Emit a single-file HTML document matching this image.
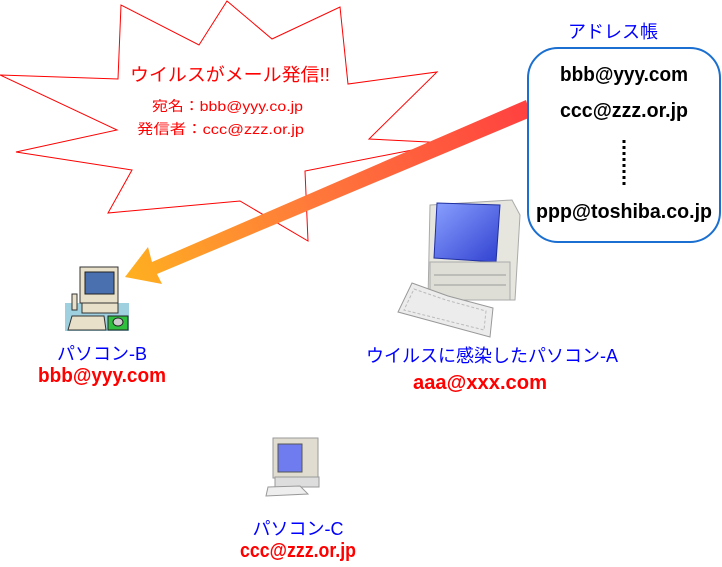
<!DOCTYPE html>
<html><head><meta charset="utf-8"><style>
html,body{margin:0;padding:0;background:#fff;}
svg{display:block;}
.jp{font-family:"Liberation Sans","Noto Sans CJK JP",sans-serif;}
.b{font-family:"Liberation Sans",sans-serif;font-weight:bold;}
</style></head><body>
<svg width="722" height="567" viewBox="0 0 722 567" xmlns="http://www.w3.org/2000/svg">
<defs>
<linearGradient id="ag" x1="530" y1="105" x2="125" y2="277" gradientUnits="userSpaceOnUse">
<stop offset="0" stop-color="#ff4040"/><stop offset="0.55" stop-color="#ff7a3a"/><stop offset="1" stop-color="#ffb020"/>
</linearGradient>
<linearGradient id="scr" x1="0" y1="0" x2="1" y2="1"><stop offset="0" stop-color="#8aa0ff"/><stop offset="1" stop-color="#3040d0"/></linearGradient>
</defs>
<polygon points="0,75 117,130 16,152 132,170 108,213 240,201 308,241 305,171 448,143 369,139 437,72 348,84 340,7 272,39 227,1 199,45 121,5 118,79" fill="#fff" stroke="#f00" stroke-width="1"/>
<text class="jp" x="130" y="81" font-size="18" fill="#f00" textLength="200" lengthAdjust="spacingAndGlyphs">ウイルスがメール発信!!</text>
<text class="jp" x="152" y="111" font-size="14" fill="#f00" textLength="151" lengthAdjust="spacingAndGlyphs">宛名：bbb@yyy.co.jp</text>
<text class="jp" x="137" y="134" font-size="14" fill="#f00" textLength="167" lengthAdjust="spacingAndGlyphs">発信者：ccc@zzz.or.jp</text>
<!-- arrow -->
<polygon points="526,100 531,117 157,274 162,284 125,277 148,247 152,262" fill="url(#ag)"/>
<!-- address book -->
<text class="jp" x="613" y="38" font-size="18" fill="#00f" text-anchor="middle">アドレス帳</text>
<rect x="528" y="48" width="192" height="194" rx="30" fill="#fff" stroke="#1a6fd0" stroke-width="2"/>
<g class="b" font-size="20" fill="#000" text-anchor="middle">
<text x="624" y="81" textLength="128" lengthAdjust="spacingAndGlyphs">bbb@yyy.com</text>
<text x="624" y="117" textLength="128" lengthAdjust="spacingAndGlyphs">ccc@zzz.or.jp</text>
<text x="624" y="218" textLength="176" lengthAdjust="spacingAndGlyphs">ppp@toshiba.co.jp</text>
</g>
<line x1="624" y1="140" x2="624" y2="186" stroke="#000" stroke-width="3" stroke-dasharray="3,3"/>
<!-- computer A -->
<g>
<path d="M430,205 L512,200 L520,215 L515,300 L428,300 Z" fill="#e6e6de" stroke="#aaa"/>
<path d="M437,203 L500,205 L496,262 L434,258 Z" fill="url(#scr)" stroke="#2030a0"/>
<rect x="430" y="262" width="80" height="38" fill="#deded6" stroke="#aaa"/>
<line x1="434" y1="275" x2="506" y2="275" stroke="#999"/><line x1="434" y1="285" x2="506" y2="285" stroke="#999"/>
<path d="M412,283 L448,296 L493,308 L490,337 L398,312 Z" fill="#ececec" stroke="#999"/>
<path d="M414,289 L446,300 L486,311 L484,330 L404,310 Z" fill="none" stroke="#bbb" stroke-dasharray="3,2"/>
</g>
<!-- computer B -->
<rect x="65" y="303" width="64" height="28" fill="#9fd0e0"/>
<rect x="80" y="267" width="38" height="36" fill="#e8e0c8" stroke="#333"/>
<rect x="85" y="272" width="29" height="22" fill="#4a70b0" stroke="#222"/>
<rect x="72" y="294" width="5" height="16" fill="#e8e0c8" stroke="#333"/>
<rect x="82" y="303" width="36" height="10" fill="#e8e0c8" stroke="#333"/>
<path d="M68,330 L72,316 L104,316 L106,330 Z" fill="#e8e0c8" stroke="#333"/>
<rect x="108" y="316" width="20" height="14" fill="#30c040" stroke="#222"/>
<ellipse cx="118" cy="322" rx="5" ry="4" fill="#ccc" stroke="#222"/>
<text class="jp" x="102" y="360" font-size="18" fill="#00f" text-anchor="middle">パソコン-B</text>
<text class="b" x="102" y="382" font-size="20" fill="#f00" text-anchor="middle" textLength="128" lengthAdjust="spacingAndGlyphs">bbb@yyy.com</text>
<!-- computer C -->
<rect x="273" y="438" width="45" height="40" fill="#e0ddd0" stroke="#999"/>
<rect x="278" y="444" width="24" height="28" fill="#6f7cf0" stroke="#555"/>
<rect x="275" y="477" width="44" height="10" fill="#ddd" stroke="#999"/>
<path d="M268,487 L300,486 L308,494 L266,496 Z" fill="#eee" stroke="#999"/>
<text class="jp" x="298" y="535" font-size="18" fill="#00f" text-anchor="middle">パソコン-C</text>
<text class="b" x="298" y="557" font-size="20" fill="#f00" text-anchor="middle" textLength="116" lengthAdjust="spacingAndGlyphs">ccc@zzz.or.jp</text>
<!-- labels A -->
<text class="jp" x="492" y="362" font-size="18" fill="#00f" text-anchor="middle">ウイルスに感染したパソコン-A</text>
<text class="b" x="480" y="389" font-size="20" fill="#f00" text-anchor="middle" textLength="134" lengthAdjust="spacingAndGlyphs">aaa@xxx.com</text>
</svg>
</body></html>
